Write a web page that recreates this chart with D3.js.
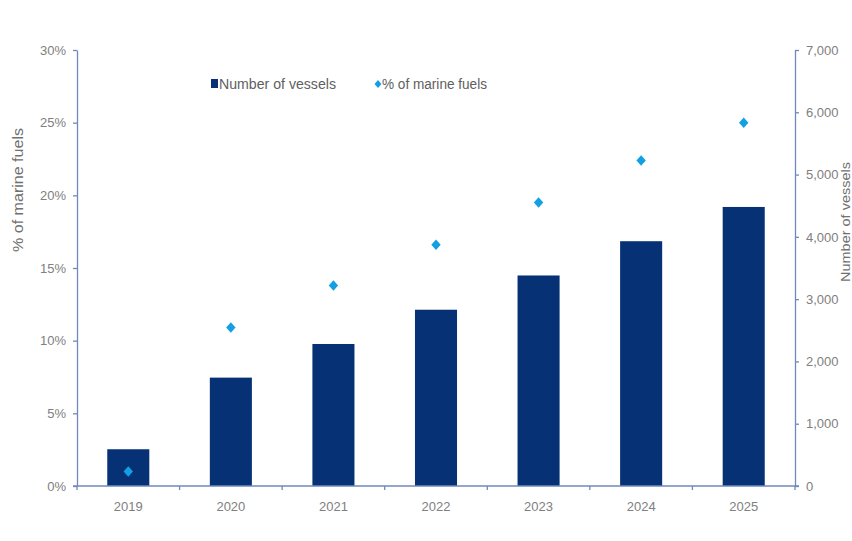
<!DOCTYPE html>
<html>
<head>
<meta charset="utf-8">
<script src="https://cdn.jsdelivr.net/npm/d3@7"></script>
<style>
  body { margin: 0; background: #fff; }
  svg { display: block; font-family: "Liberation Sans", Arial, sans-serif; }
</style>
</head>
<body>
<div id="chart"></div>
<script>
const years = ["2019", "2020", "2021", "2022", "2023", "2024", "2025"];
const vessels = [590, 1740, 2280, 2830, 3380, 3930, 4480];
const marineShare = [1.0, 10.9, 13.8, 16.6, 19.5, 22.4, 25.0];
const leftTicks = [0, 5, 10, 15, 20, 25, 30];
const rightTicks = [0, 1000, 2000, 3000, 4000, 5000, 6000, 7000];

const width = 852, height = 541;
const plotLeft = 77, plotRight = 795, plotTop = 50, plotBottom = 486;
const axisColor = "#7089bb", labelColor = "#808080";

const svg = d3.select("#chart").append("svg")
  .attr("width", width)
  .attr("height", height);

const x = d3.scaleBand().domain(years).range([plotLeft, plotRight])
  .paddingInner(0.59).paddingOuter(0.295);
const yPct = d3.scaleLinear().domain([0, 30]).range([plotBottom, plotTop]);
const yNum = d3.scaleLinear().domain([0, 7000]).range([plotBottom, plotTop]);

// bars
svg.append("g").selectAll("rect")
  .data(vessels)
  .join("rect")
    .attr("x", (d, i) => x(years[i]))
    .attr("y", d => yNum(d))
    .attr("width", x.bandwidth())
    .attr("height", d => plotBottom - yNum(d))
    .attr("fill", "#063275");

// diamonds (rotated squares)
const diamond = d3.symbol().type(d3.symbolSquare).size(44);
svg.append("g").selectAll("path")
  .data(marineShare)
  .join("path")
    .attr("d", diamond)
    .attr("transform", (d, i) => "translate(" + (x(years[i]) + x.bandwidth() / 2) + "," + yPct(d) + ") scale(1,1.12) rotate(45)")
    .attr("fill", "#12a0e3");

// left axis
const gl = svg.append("g")
  .attr("transform", "translate(" + plotLeft + ",0)")
  .call(d3.axisLeft(yPct).tickValues(leftTicks).tickFormat(d => d + "%").tickSize(4).tickSizeOuter(0).tickPadding(7));

// right axis
const gr = svg.append("g")
  .attr("transform", "translate(" + plotRight + ",0)")
  .call(d3.axisRight(yNum).tickValues(rightTicks).tickFormat(d3.format(",")).tickSize(4).tickSizeOuter(0).tickPadding(7));

// x axis
const gx = svg.append("g")
  .attr("transform", "translate(0," + plotBottom + ")")
  .call(d3.axisBottom(x).tickSize(0).tickPadding(16));
gx.select(".domain").attr("d", "M" + (plotLeft - 4) + ",0H" + (plotRight + 4));
gx.selectAll(".bnd")
  .data(d3.range(years.length + 1))
  .join("line")
    .attr("class", "bnd")
    .attr("x1", i => plotLeft + i * x.step())
    .attr("x2", i => plotLeft + i * x.step())
    .attr("y1", 0).attr("y2", 4);

[gl, gr, gx].forEach(g => {
  g.selectAll(".domain").attr("stroke", axisColor).attr("stroke-width", 1.3);
  g.selectAll("line").attr("stroke", axisColor).attr("stroke-width", 1.3);
  g.selectAll("text").attr("fill", labelColor).attr("font-size", 13)
    .attr("font-family", "'Liberation Sans', Arial, sans-serif");
});

// axis titles
svg.append("text")
  .attr("transform", "translate(23,190) rotate(-90)")
  .attr("text-anchor", "middle")
  .attr("fill", "#707070")
  .attr("font-size", 14)
  .attr("textLength", 124)
  .attr("lengthAdjust", "spacingAndGlyphs")
  .text("% of marine fuels");

svg.append("text")
  .attr("transform", "translate(850,222) rotate(-90)")
  .attr("text-anchor", "middle")
  .attr("fill", "#707070")
  .attr("font-size", 12.5)
  .attr("textLength", 120)
  .attr("lengthAdjust", "spacingAndGlyphs")
  .text("Number of vessels");

// legend
const legend = svg.append("g").attr("transform", "translate(211,84)");
legend.append("rect")
  .attr("x", 0).attr("y", -5)
  .attr("width", 7).attr("height", 9)
  .attr("fill", "#063275");
legend.append("text")
  .attr("x", 8).attr("y", 5)
  .attr("fill", "#606060").attr("font-size", 14)
  .attr("textLength", 117)
  .attr("lengthAdjust", "spacingAndGlyphs")
  .text("Number of vessels");
legend.append("path")
  .attr("d", d3.symbol().type(d3.symbolSquare).size(24))
  .attr("transform", "translate(167,0) scale(1,1.12) rotate(45)")
  .attr("fill", "#12a0e3");
legend.append("text")
  .attr("x", 171).attr("y", 5)
  .attr("fill", "#606060").attr("font-size", 14)
  .attr("textLength", 105)
  .attr("lengthAdjust", "spacingAndGlyphs")
  .text("% of marine fuels");
</script>
</body>
</html>
